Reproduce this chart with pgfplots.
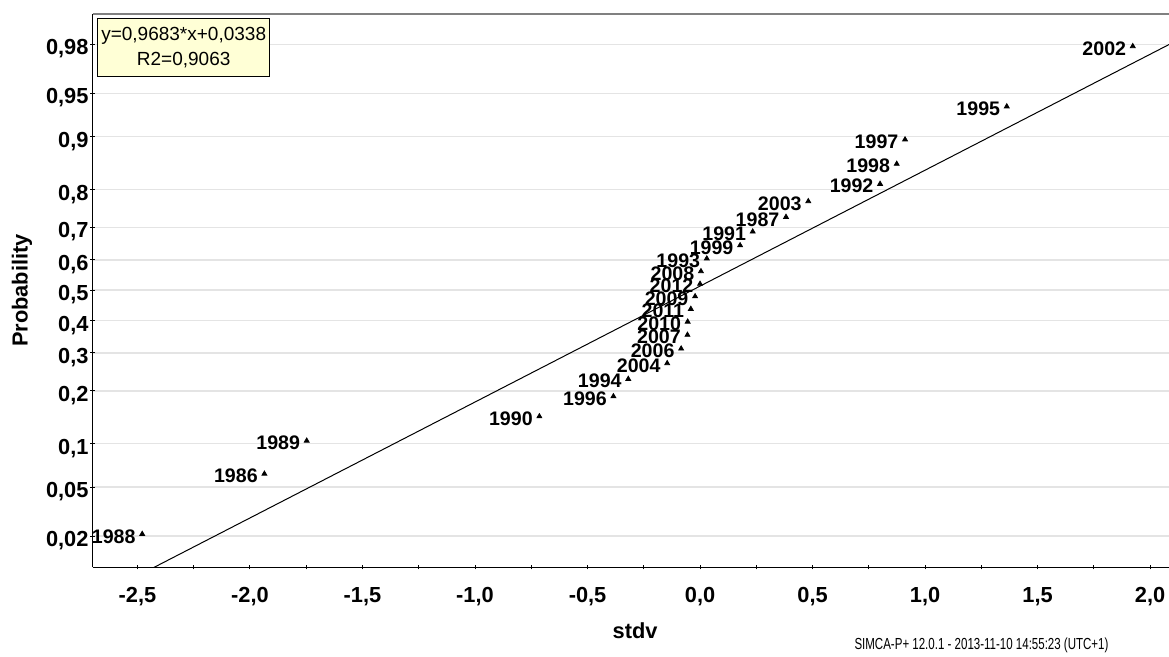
\documentclass[border=0pt]{standalone}
\usepackage{fontspec}
\setmainfont{Liberation Sans}
\usepackage{graphicx}
\usepackage{pgfplots}
\pgfplotsset{compat=1.18}
\definecolor{gridgray}{RGB}{228,228,228}
\definecolor{boxyellow}{RGB}{255,255,214}
\pgfplotstableread{
x y label
-2.479 -2.0371 1988
-1.936 -1.5341 1986
-1.748 -1.2582 1989
-0.714 -1.0545 1990
-0.385 -0.8871 1996
-0.319 -0.7421 1994
-0.146 -0.6110 2004
-0.084 -0.4888 2006
-0.056 -0.3741 2007
-0.055 -0.2637 2010
-0.041 -0.1573 2011
-0.022 -0.0522 2009
0.000 0.0522 2012
0.004 0.1573 2008
0.030 0.2637 1993
0.178 0.3741 1999
0.234 0.4888 1991
0.382 0.6110 1987
0.481 0.7421 2003
0.800 0.8871 1992
0.874 1.0545 1998
0.911 1.2582 1997
1.363 1.5341 1995
1.923 2.0371 2002
}\datatable
\begin{document}
\begin{tikzpicture}
\begin{axis}[
  scale only axis,
  width=538.15pt, height=276.65pt,
  xmin=-2.699, xmax=2.084,
  ymin=-2.315, ymax=2.307,
  axis lines*=left,
  axis line style={black, line width=0.6pt},
  xtick={-2.5,-2,-1.5,-1,-0.5,0,0.5,1,1.5,2},
  xticklabels={{-2,5},{-2,0},{-1,5},{-1,0},{-0,5},{0,0},{0,5},{1,0},{1,5},{2,0}},
  minor xtick={-2.25,-1.75,-1.25,-0.75,-0.25,0.25,0.75,1.25,1.75},
  ytick={-2.0537,-1.6449,-1.2816,-0.8416,-0.5244,-0.2533,0,0.2533,0.5244,0.8416,1.2816,1.6449,2.0537},
  yticklabels={{0,02},{0,05},{0,1},{0,2},{0,3},{0,4},{0,5},{0,6},{0,7},{0,8},{0,9},{0,95},{0,98}},
  tick align=center,
  major tick length=2.2pt, minor tick length=2.2pt,
  tick style={black, line width=0.5pt},
  ymajorgrids,
  major grid style={gridgray, line width=0.7pt},
  xticklabel style={font=\fontsize{10.9}{12}\selectfont\bfseries, anchor=base, inner sep=0pt, yshift=-16.4pt},
  yticklabel style={font=\fontsize{10.9}{12}\selectfont\bfseries, anchor=base east, inner sep=0pt, xshift=-0.8pt, yshift=-5.3pt},
  xlabel={stdv},
  ylabel={Probability},
  xlabel style={at={(axis description cs:0.504,-0.115)}, anchor=center, font=\fontsize{10.9}{12}\selectfont\bfseries},
  ylabel style={at={(axis description cs:-0.0657,0.5)}, anchor=center, font=\fontsize{10.9}{12}\selectfont\bfseries},
]
\addplot[black, line width=0.5pt] coordinates {(-2.699,-2.5796) (2.084,2.0517)};
\addplot[only marks, mark=triangle*, mark size=1.4pt, black,
  nodes near coords, point meta=explicit symbolic,
  every node near coord/.append style={anchor=base east, inner sep=0pt, xshift=-3.15pt, yshift=-4.5pt, font=\fontsize{9.8}{10}\selectfont\bfseries, black}]
  table[x=x, y=y, meta=label] {\datatable};
\node[draw=black, line width=0.7pt, fill=boxyellow, anchor=north west, minimum width=86pt, minimum height=29pt, align=center, inner sep=1.5pt, font=\fontsize{9.5}{12.75}\selectfont] at (axis description cs:0.004,0.9928) {y=0,9683*x+0,0338\\R2=0,9063};
\end{axis}
\draw[gray, line width=0.6pt] (0,276.65pt) -- (538.15pt,276.65pt);
\node[anchor=base, inner sep=0pt] at (444.4pt,-41.3pt) {\scalebox{0.72}[1]{\fontsize{8}{9}\selectfont SIMCA-P+ 12.0.1 - 2013-11-10 14:55:23 (UTC+1)}};
\pgfresetboundingbox
\useasboundingbox (-46.35pt,-44.85pt) rectangle (538.15pt,283.65pt);
\end{tikzpicture}
\end{document}
